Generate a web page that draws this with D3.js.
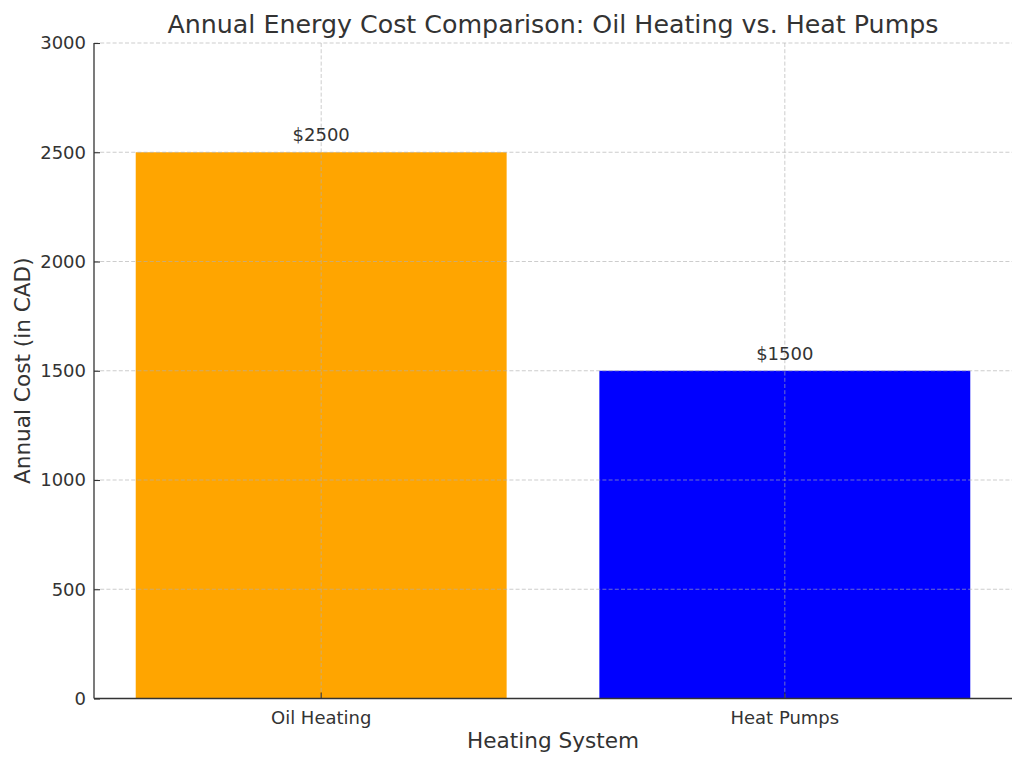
<!DOCTYPE html>
<html>
<head>
<meta charset="utf-8">
<script src="https://cdn.jsdelivr.net/npm/d3@7"></script>
<style>
  html, body { margin: 0; padding: 0; background: #fff; }
  svg { display: block; }
  text { font-family: "DejaVu Sans", sans-serif; fill: #333; }
</style>
</head>
<body>
<svg id="chart" width="1024" height="765"></svg>
<script>
const categories = ["Oil Heating", "Heat Pumps"];
const costs = [2500, 1500];
const barColors = ["#FFA500", "#0000FF"];
const yTicks = [0, 500, 1000, 1500, 2000, 2500, 3000];
const titleText = "Annual Energy Cost Comparison: Oil Heating vs. Heat Pumps";
const xLabelText = "Heating System";
const yLabelText = "Annual Cost (in CAD)";

(function () {
const svg = d3.select("#chart");
const pLeft = 94, pRight = 1012, pTop = 43, pBottom = 698.5;

const x = d3.scaleBand().domain(categories).range([pLeft, pRight])
  .paddingInner(0.2).paddingOuter(0.09);
const y = d3.scaleLinear().domain([0, 3000]).range([pBottom, pTop]);

// bars
svg.append("g").selectAll("rect").data(categories).join("rect")
  .attr("x", d => x(d))
  .attr("width", x.bandwidth())
  .attr("y", (d, i) => y(costs[i]))
  .attr("height", (d, i) => y(0) - y(costs[i]))
  .attr("fill", (d, i) => barColors[i]);

// grid (drawn above bars)
const grid = svg.append("g");
grid.selectAll("line.h").data(yTicks.filter(t => t > 0)).join("line")
  .attr("class", "h")
  .attr("x1", pLeft).attr("x2", pRight)
  .attr("y1", d => y(d)).attr("y2", d => y(d));
grid.selectAll("line.v").data(categories).join("line")
  .attr("class", "v")
  .attr("x1", d => x(d) + x.bandwidth() / 2).attr("x2", d => x(d) + x.bandwidth() / 2)
  .attr("y1", pTop).attr("y2", pBottom);
grid.selectAll("line")
  .attr("stroke", "#b0b0b0").attr("stroke-opacity", 0.7)
  .attr("stroke-width", 0.9).attr("stroke-dasharray", "4,2.2");

// axes
const yAxis = d3.axisLeft(y).tickValues(yTicks).tickSize(-6).tickPadding(8).tickFormat(d3.format("d"));
const yg = svg.append("g").attr("transform", `translate(${pLeft},0)`).call(yAxis);
const xAxis = d3.axisBottom(x).tickSize(-6).tickPadding(13);
const xg = svg.append("g").attr("transform", `translate(0,${pBottom})`).call(xAxis);
[yg, xg].forEach(g => {
  g.select(".domain").attr("stroke", "#333").attr("stroke-width", 1.3);
  g.selectAll(".tick line").attr("stroke", "#333").attr("stroke-width", 1.1);
  g.selectAll(".tick text").style("font-family", "DejaVu Sans").style("font-size", "18px").attr("fill", "#333");
});
yg.select(".domain").attr("d", `M0,${pBottom}V${pTop}`);
xg.select(".domain").attr("d", `M${pLeft},0H${pRight}`);

// value labels
svg.append("g").selectAll("text").data(categories).join("text")
  .attr("x", d => x(d) + x.bandwidth() / 2)
  .attr("y", (d, i) => y(costs[i]) - 11)
  .attr("text-anchor", "middle")
  .style("font-size", "18px")
  .text((d, i) => "$" + costs[i]);

// title & axis labels
svg.append("text").attr("x", (pLeft + pRight) / 2).attr("y", 33)
  .attr("text-anchor", "middle").style("font-size", "25.3px").text(titleText);
svg.append("text").attr("x", (pLeft + pRight) / 2).attr("y", 748)
  .attr("text-anchor", "middle").style("font-size", "21.6px").text(xLabelText);
svg.append("text").attr("transform", `translate(29.5,${(pTop + pBottom) / 2}) rotate(-90)`)
  .attr("text-anchor", "middle").style("font-size", "21.6px").text(yLabelText);
})();
</script>
</body>
</html>
